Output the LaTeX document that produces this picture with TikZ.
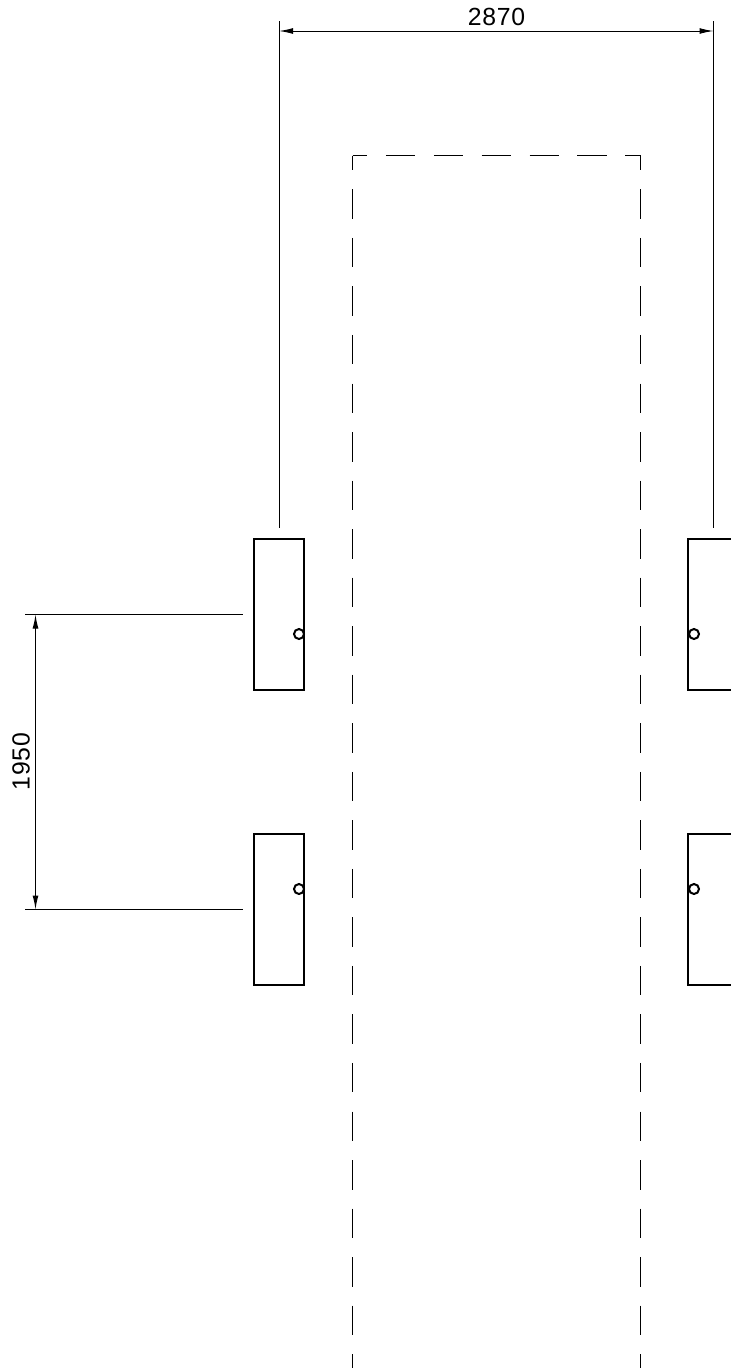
\documentclass[tikz,border=0pt]{standalone}
\usepackage{fontspec}
\setmainfont{Liberation Sans}
\usetikzlibrary{arrows.meta}
\tikzset{
  door/.style={draw=black,line width=1.5pt,minimum width=37.5pt,minimum height=113.25pt,inner sep=0pt,outer sep=0pt,anchor=north west},
  knob/.style={circle,draw=black,fill=white,line width=1.5pt,minimum size=7.5pt,inner sep=0pt},
  thinline/.style={draw=black,line width=0.65pt},
  dimline/.style={draw=black,line width=0.75pt,{Latex[length=10.5pt,width=4.4pt]}-{Latex[length=10.5pt,width=4.4pt]}},
  laneV/.style={draw=black,line width=0.95pt,dash pattern=on 22.1pt off 14.3pt,dash phase=11pt},
  laneH/.style={draw=black,line width=0.95pt,dash pattern=on 21.9pt off 14pt,dash phase=10.8pt},
  dimtext/.style={inner sep=0pt,font=\fontsize{18.6pt}{21pt}\selectfont}
}
\begin{document}
\begin{tikzpicture}[x=0.75pt,y=-0.75pt]
\useasboundingbox (0,0) rectangle (731,1368);
\clip (0,0) rectangle (731,1368);
% lane
\coordinate (tl) at (352.5,155.5);
\coordinate (tr) at (640.5,155.5);
\coordinate (bl) at (352.5,1368);
\coordinate (br) at (640.5,1368);
\draw[laneV] (tl) -- (bl);
\draw[laneV] (tr) -- (br);
\draw[laneH] (tl) -- (tr);
% doors
\node[door] (d1) at (254,539) {};
\node[door] (d2) at (254,833.7) {};
\node[door] (d3) at (688,539) {};
\node[door] (d4) at (688,833.7) {};
\node[knob] (k1) at (299,634) {};
\node[knob] (k2) at (299,889) {};
\node[knob] (k3) at (694,634) {};
\node[knob] (k4) at (694,889) {};
% horizontal dimension
\coordinate (a1) at (279,21);
\coordinate (a2) at (279,527.5);
\coordinate (b1) at (713.5,21);
\coordinate (b2) at (713.5,527.5);
\coordinate (a3) at (279,31);
\coordinate (b3) at (713.5,31);
\draw[thinline] (a1) -- (a2);
\draw[thinline] (b1) -- (b2);
\draw[dimline] (a3) -- (b3);
\node[dimtext] (t1) at (496.5,17) {\addfontfeatures{LetterSpace=3}2870};
% vertical dimension
\coordinate (c1) at (25,614.5);
\coordinate (c2) at (243,614.5);
\coordinate (e1) at (25,909.5);
\coordinate (e2) at (243,909.5);
\coordinate (c3) at (35.5,614.5);
\coordinate (e3) at (35.5,909.5);
\draw[thinline] (c1) -- (c2);
\draw[thinline] (e1) -- (e2);
\draw[dimline] (c3) -- (e3);
\node[dimtext,rotate=90] (t2) at (21,761.5) {\addfontfeatures{LetterSpace=3}1950};
\end{tikzpicture}
\end{document}
